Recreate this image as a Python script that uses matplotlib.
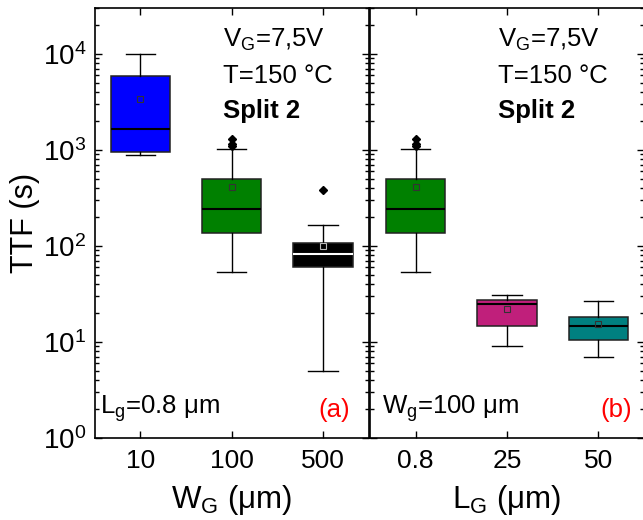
import numpy as np
import matplotlib.pyplot as plt
from matplotlib.ticker import LogLocator, LogFormatterMathtext, NullFormatter

plt.rcParams['font.family'] = ['Liberation Sans', 'DejaVu Sans']
plt.rcParams['mathtext.fontset'] = 'custom'
plt.rcParams['mathtext.rm'] = 'Liberation Sans'
plt.rcParams['mathtext.it'] = 'Liberation Sans:italic'
plt.rcParams['mathtext.bf'] = 'Liberation Sans:bold'

# panel (a): vs gate width
wg_labels = ['10', '100', '500']
wg_colors = ['#0000ff', '#008000', '#000000']
wg_q1 = [960, 137, 60]
wg_med = [1660, 240, 83]
wg_q3 = [5900, 500, 107]
wg_lo = [880, 54, 5.0]
wg_hi = [10000, 1010, 165]
wg_mean = [3400, 410, 100]
wg_fliers = [[], [1100, 1150, 1300], [385]]

# panel (b): vs gate length
lg_labels = ['0.8', '25', '50']
lg_colors = ['#008000', '#c01f7b', '#008080']
lg_q1 = [137, 14.7, 10.5]
lg_med = [240, 24.6, 14.6]
lg_q3 = [500, 27.4, 18.3]
lg_lo = [54, 9.0, 6.95]
lg_hi = [1010, 31, 27]
lg_mean = [410, 21.9, 15.3]
lg_fliers = [[1100, 1150, 1300], [], []]

W, H = 643, 520
fig = plt.figure(figsize=(W / 100, H / 100), dpi=100)
ax1 = fig.add_axes([94.7 / W, 82 / H, 274 / W, 430 / H])
ax2 = fig.add_axes([370 / W, 82 / H, 274 / W, 430 / H])


def draw(ax, labels, colors, q1, med, q3, lo, hi, mean, fliers):
    stats = []
    for i in range(len(labels)):
        stats.append(dict(med=med[i], q1=q1[i], q3=q3[i], whislo=lo[i],
                          whishi=hi[i], mean=mean[i], fliers=fliers[i]))
    pos = np.arange(1, len(labels) + 1)
    b = ax.bxp(stats, positions=pos, widths=0.65, capwidths=0.32,
               patch_artist=True, showmeans=True, showfliers=True,
               boxprops=dict(linewidth=1.1, edgecolor='#222222'),
               whiskerprops=dict(linewidth=1.0, color='black'),
               capprops=dict(linewidth=1.0, color='black'),
               medianprops=dict(linewidth=1.5, color='black'),
               meanprops=dict(marker='s', markersize=4, markerfacecolor='none',
                              markeredgecolor='#333333', markeredgewidth=0.8),
               flierprops=dict(marker='D', markersize=4, markerfacecolor='black',
                               markeredgecolor='black'))
    for patch, c in zip(b['boxes'], colors):
        patch.set_facecolor(c)
    for i, c in enumerate(colors):
        if c == '#000000':
            b['medians'][i].set_color('white')
            b['means'][i].set_markeredgecolor('#bbbbbb')
    ax.set_yscale('log')
    ax.set_ylim(1, 3e4)
    ax.set_xlim(0.5, 3.5)
    ax.set_xticks(pos)
    ax.set_xticklabels(labels)
    ax.yaxis.set_major_locator(LogLocator(base=10, numticks=10))
    ax.yaxis.set_minor_locator(LogLocator(base=10, subs=np.arange(2, 10), numticks=10))
    ax.yaxis.set_major_formatter(LogFormatterMathtext())
    ax.yaxis.set_minor_formatter(NullFormatter())
    ax.tick_params(which='both', direction='in', top=True, right=True, width=1.0)
    ax.tick_params(axis='x', labelsize=19, pad=8)
    ax.tick_params(axis='y', labelsize=20, pad=6)
    ax.tick_params(which='major', length=5)
    ax.tick_params(which='minor', length=3)
    for s in ax.spines.values():
        s.set_linewidth(1.2)


draw(ax1, wg_labels, wg_colors, wg_q1, wg_med, wg_q3, wg_lo, wg_hi, wg_mean, wg_fliers)
draw(ax2, lg_labels, lg_colors, lg_q1, lg_med, lg_q3, lg_lo, lg_hi, lg_mean, lg_fliers)
ax2.tick_params(axis='y', labelleft=False)

ax1.set_ylabel('TTF (s)', fontsize=22, labelpad=2)
ax1.set_xlabel(r'W$_\mathregular{G}$ ($\mathregular{\mu}$m)', fontsize=22.5, labelpad=7)
ax2.set_xlabel(r'L$_\mathregular{G}$ ($\mathregular{\mu}$m)', fontsize=22.5, labelpad=7)

fs = 18.5
for ax, note, tag, tx in [(ax1, r'L$_\mathregular{g}$=0.8 $\mathregular{\mu}$m', '(a)', 0.932),
                          (ax2, r'W$_\mathregular{g}$=100 $\mathregular{\mu}$m', '(b)', 0.956)]:
    ax.text(0.468, 0.909, r'V$_\mathregular{G}$=7,5V', transform=ax.transAxes,
            fontsize=fs, va='baseline')
    ax.text(0.468, 0.826, 'T=150 °C', transform=ax.transAxes,
            fontsize=fs, va='baseline')
    ax.text(0.468, 0.744, 'Split 2', transform=ax.transAxes,
            fontsize=fs, fontweight='bold', va='baseline')
    ax.text(0.02 if ax is ax1 else 0.044, 0.056, note, transform=ax.transAxes,
            fontsize=fs, va='baseline')
    ax.text(tx, 0.05, tag, transform=ax.transAxes, fontsize=fs,
            color='red', ha='right', va='baseline')

fig.savefig('out.png', dpi=100)
